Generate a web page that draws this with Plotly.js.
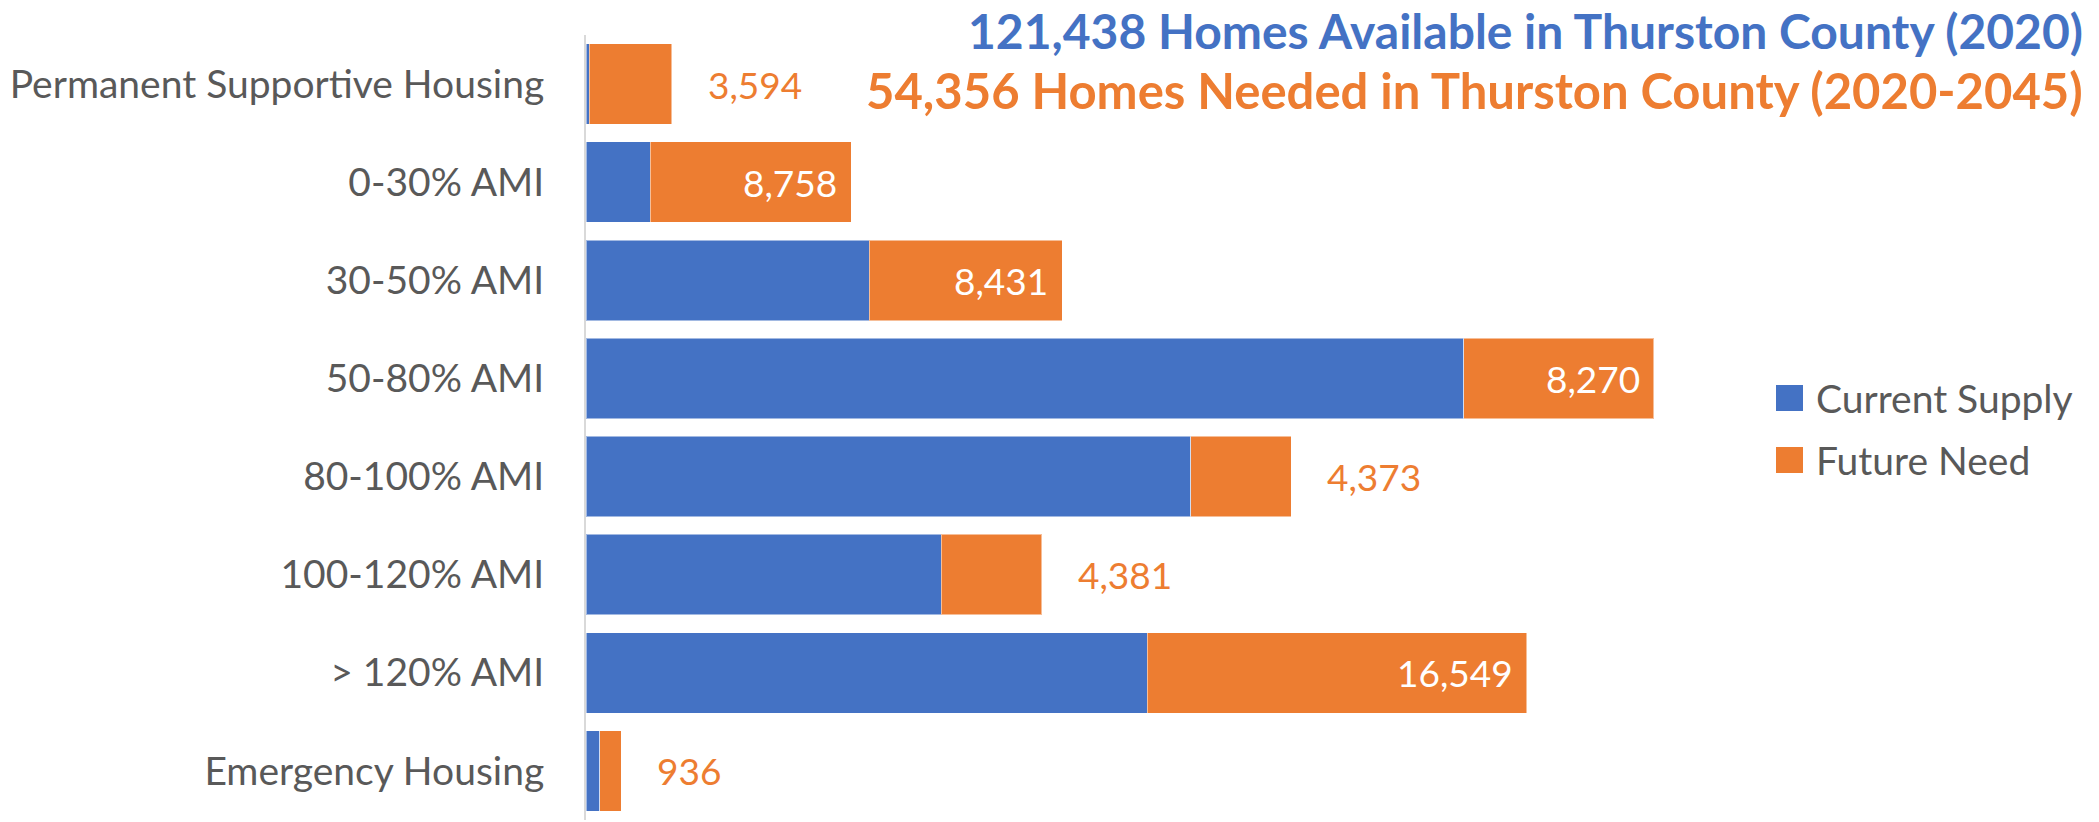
<!DOCTYPE html>
<html>
<head>
<meta charset="utf-8">
<script src="https://cdn.plot.ly/plotly-3.0.1.min.js"></script>
<style>html,body{margin:0;padding:0;background:#fff;}#chart{width:2099px;height:822px;}</style>
</head>
<body>
<div id="chart"></div>
<script>
const categories = ["Permanent Supportive Housing", "0-30% AMI", "30-50% AMI", "50-80% AMI", "80-100% AMI", "100-120% AMI", "> 120% AMI", "Emergency Housing"];
const currentSupply = [150, 2800, 12340, 38270, 26370, 15480, 24460, 610];
const futureNeed = [3594, 8758, 8431, 8270, 4373, 4381, 16549, 936];
const labelInside = [false, true, true, true, false, false, true, false];
const seriesNames = ["Current Supply", "Future Need"];
const titleLines = ["121,438 Homes Available in Thurston County (2020)", "54,356 Homes Needed in Thurston County (2020-2045)"];

const BLUE = "#4472C4", ORANGE = "#ED7D31", GREY = "#595959";
const COLORS = [BLUE, ORANGE];
const FONT = "Lato, 'Open Sans', sans-serif";

// plot-area geometry (pixels) used to place paper-referenced decorations
const W = 2099, H = 822, ML = 586, MR = 366, MT = 35, MB = 2;
const PW = W - ML - MR, PH = H - MT - MB;
const px = x => (x - ML) / PW;
const py = y => (H - MB - y) / PH;

const traces = seriesNames.map((n, k) => ({
  type: "bar", orientation: "h", name: n, y: categories,
  x: k === 0 ? currentSupply : futureNeed,
  marker: {color: COLORS[k], line: {color: "rgba(255,255,255,0.5)", width: 1}},
  hoverinfo: "x+y", showlegend: false
}));

const fmt = v => v.toLocaleString("en-US");
const annotations = categories.map((c, i) => ({
  x: currentSupply[i] + futureNeed[i], y: c, xref: "x", yref: "y",
  text: fmt(futureNeed[i]), showarrow: false,
  xanchor: labelInside[i] ? "right" : "left",
  xshift: labelInside[i] ? -12 : 34,
  font: {family: FONT, size: 37, color: labelInside[i] ? "#FFFFFF" : ORANGE}
}));

// title lines
annotations.push({
  xref: "paper", yref: "paper", x: px(2084), y: py(1),
  xanchor: "right", yanchor: "top", showarrow: false, text: titleLines[0], borderpad: 0,
  font: {family: FONT, size: 48, weight: "bold", color: BLUE}
});
annotations.push({
  xref: "paper", yref: "paper", x: px(2084), y: py(90),
  xanchor: "right", yanchor: "middle", showarrow: false, text: titleLines[1], borderpad: 0,
  font: {family: FONT, size: 49, weight: "bold", color: ORANGE}
});

// legend (manual, larger swatches like the original)
const legendY = [398, 460];
const shapes = [];
seriesNames.forEach((n, k) => {
  shapes.push({type: "rect", xref: "paper", yref: "paper",
    x0: px(1776), x1: px(1803), y0: py(legendY[k] + 13), y1: py(legendY[k] - 13),
    fillcolor: COLORS[k], line: {width: 0}});
  annotations.push({xref: "paper", yref: "paper", x: px(1814), y: py(legendY[k]),
    xanchor: "left", yanchor: "middle", showarrow: false, text: n,
    font: {family: FONT, size: 39, color: GREY}});
});

const layout = {
  width: W, height: H,
  margin: {l: ML, r: MR, t: MT, b: MB, pad: 0},
  paper_bgcolor: "#fff", plot_bgcolor: "#fff",
  barmode: "stack", bargap: 0.18,
  font: {family: FONT, color: GREY},
  xaxis: {range: [0, 50000], showgrid: false, zeroline: false, showticklabels: false, showline: false, fixedrange: true},
  yaxis: {type: "category", autorange: "reversed", showgrid: false, zeroline: false,
          showline: true, linecolor: "#D9D9D9", linewidth: 2, ticks: "",
          ticklabelstandoff: 32, tickfont: {family: FONT, size: 39, color: GREY}},
  showlegend: false,
  shapes: shapes,
  annotations: annotations
};

Plotly.newPlot("chart", traces, layout, {displayModeBar: false, staticPlot: true});
</script>
</body>
</html>
